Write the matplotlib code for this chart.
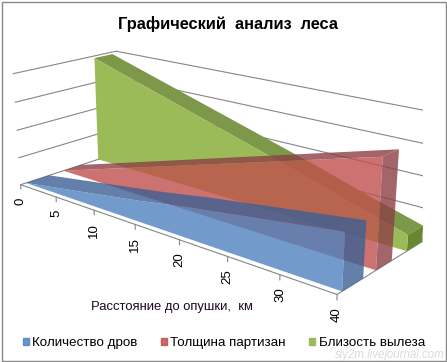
"""3D area chart, redrawn with mplot3d. The camera was fitted to the box corners of the picture."""
import matplotlib
matplotlib.use("Agg")
import matplotlib.pyplot as plt
from matplotlib.patches import Patch, Rectangle
from mpl_toolkits.mplot3d import proj3d
from mpl_toolkits.mplot3d.art3d import Poly3DCollection

plt.rcParams["font.family"] = ["Liberation Sans", "DejaVu Sans"]

categories = ["0", "5", "10", "15", "20", "25", "30", "40"]
firewood = [0, 6, 12, 18, 25, 31, 37, 43]
thickness = [0, 12, 24, 36, 48, 60, 72, 84]
closeness = [98, 86, 74, 62, 50, 38, 25, 13]
grid_levels = [0, 25, 50, 75, 100]

BLUE = "#4F81BD"
RED = "#C0504D"
GREEN = "#9BBB59"
GRID = "#868686"

W, H = 447, 362
fig = plt.figure(figsize=(W / 100, H / 100), dpi=100, facecolor="white")
ax = fig.add_axes([-19.18 / W, -16.95 / H, 441.88 / W, 441.88 / H], projection="3d")
ax.patch.set_visible(False)
ax.set_axis_off()
ax.computed_zorder = False
ax.view_init(elev=17.942, azim=-49.479)
ax.set_proj_type("persp", focal_length=0.3975)
ax.set_box_aspect((1, 0.3666, 0.3034))
last = len(categories) - 1
ax.set_xlim(0, last, view_margin=0)
ax.set_ylim(0, 1, view_margin=0)
ax.set_zlim(0, 100, view_margin=0)

# walls and floor edges
for z in grid_levels:
    ax.plot([0, 0, last], [0, 1, 1], [z, z, z], color=GRID, lw=0.8, zorder=1)
ax.plot([0, last, last], [0, 0, 1], [0, 0, 0], color=GRID, lw=0.8, zorder=1)

# Text3D ignores rotation, so the category labels go on as 2D annotations
M = ax.get_proj()
for i, lab in enumerate(categories):
    ax.plot([i, i], [0, 0], [0, -4], color=GRID, lw=0.8, zorder=1)
    u, v, _ = proj3d.proj_transform(i, 0, 0, M)
    ax.annotate(lab, xy=(u, v), xycoords="data", xytext=(0, -9), textcoords="offset points",
                rotation=90, ha="center", va="top", fontsize=9.5, color="black")


def area(vals, y0, y1, front, top, cap, alpha, z):
    xs = list(range(len(vals)))
    front_poly = [(x, y0, v) for x, v in zip(xs, vals)] + [(last, y0, 0), (0, y0, 0)]
    top_poly = [(x, y0, v) for x, v in zip(xs, vals)] + [(x, y1, v) for x, v in zip(xs[::-1], vals[::-1])]
    cap_poly = [(last, y0, 0), (last, y1, 0), (last, y1, vals[-1]), (last, y0, vals[-1])]
    for k, (poly, col) in enumerate([(top_poly, top), (cap_poly, cap), (front_poly, front)]):
        ax.add_collection3d(Poly3DCollection([poly], facecolors=col, edgecolors="none",
                                             linewidths=0, alpha=alpha, zorder=z + k))


area(closeness, 0.77, 0.96, GREEN, "#7C9848", "#66892F", 1.0, 10)
area(thickness, 0.41, 0.59, RED, "#8C3F45", "#8C3F45", 0.8, 20)
area(firewood, 0.05, 0.27, BLUE, "#3D5F94", "#3D5F94", 0.8, 30)

fig.text(227.5 / W, 1 - 24 / H, "Графический  анализ  леса", ha="center", va="center",
         fontsize=11.8, fontweight="bold")
fig.text(172 / W, 1 - 307 / H, "Расстояние до опушки,  км", ha="center", va="center",
         fontsize=9.4, color="#1A0A20")
fig.legend(handles=[Patch(color=BLUE, alpha=0.85, label="Количество дров"),
                    Patch(color=RED, alpha=0.85, label="Толщина партизан"),
                    Patch(color=GREEN, label="Близость вылеза")],
           loc="center", bbox_to_anchor=(224 / W, 1 - 343 / H), ncol=3, frameon=False,
           fontsize=9.6, handlelength=0.45, handleheight=0.45, handletextpad=0.25,
           columnspacing=1.75)
fig.text(445 / W, 1 - 355 / H, "sly2m.livejournal.com", ha="right", va="center",
         fontsize=8.3, style="italic", color="#DADADA")
fig.add_artist(Rectangle((1.5 / W, 1.5 / H), (W - 3) / W, (H - 3) / H, transform=fig.transFigure,
                         fill=False, edgecolor="#888888", lw=1))

fig.savefig("out.png", dpi=100)
